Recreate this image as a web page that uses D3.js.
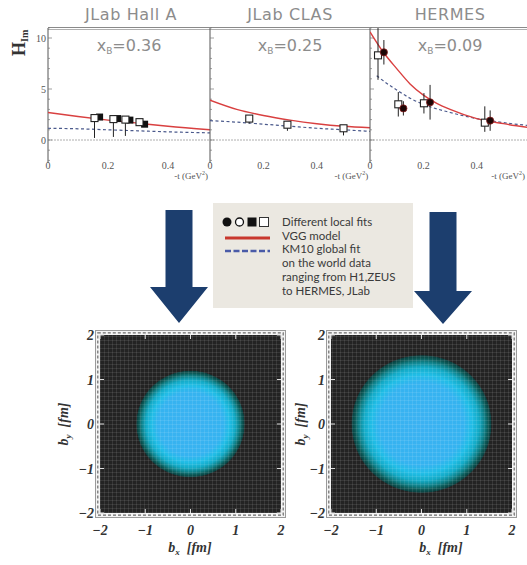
<!DOCTYPE html>
<html><head><meta charset="utf-8">
<script src="https://cdn.jsdelivr.net/npm/d3@7"></script>
<style>body{margin:0;background:#fff}svg{display:block}</style>
</head><body>
<svg id="c" width="527" height="565"></svg>
<script>
// ---------- data: top panels ----------
const panelTitles = ["JLab Hall A", "JLab CLAS", "HERMES"];
const panelXB = ["0.36", "0.25", "0.09"];
const panelTmax = [0.54, 0.6, 0.6];
const xTicks = [0, 0.2, 0.4];
const yTicks = [0, 5, 10];
// VGG model (red)
const vggT = [[0,0.1,0.2,0.3,0.4,0.54],[0,0.1,0.2,0.3,0.4,0.5,0.6],[0,0.05,0.1,0.15,0.2,0.25,0.3,0.4,0.5,0.6]];
const vggH = [[2.7,2.3,1.95,1.65,1.35,1.0],[3.9,3.0,2.4,1.95,1.6,1.35,1.2],[10.6,8.6,7.0,5.5,4.4,3.6,3.0,2.1,1.6,1.2]];
// KM10 global fit (blue dashed)
const km10T = [[0,0.1,0.2,0.3,0.4,0.54],[0,0.1,0.2,0.3,0.4,0.5,0.6],[0.025,0.05,0.1,0.15,0.2,0.3,0.4,0.5,0.6]];
const km10H = [[1.15,1.1,1.0,0.9,0.8,0.7],[1.9,1.75,1.55,1.35,1.15,1.0,0.85],[6.3,5.8,4.9,4.1,3.5,2.7,2.1,1.7,1.4]];
// local fits: open squares
const openSqT = [[0.155,0.218,0.258,0.305],[0.147,0.29,0.50],[0.03,0.106,0.202,0.43]];
const openSqH = [[2.15,2.05,2.0,1.75],[2.1,1.5,1.15],[8.3,3.5,3.6,1.7]];
const openSqErrLo = [[1.95,1.75,1.6,0.3],[0.5,0.6,0.7],[2.4,1.2,1.0,0.9]];
const openSqErrHi = [[0.2,0.2,0.2,0.2],[0.2,0.2,0.2],[2.7,1.2,1.0,1.6]];
// local fits: filled squares
const filledSqT = [[0.172,0.232,0.273,0.322],[],[]];
const filledSqH = [[2.25,2.1,1.95,1.55],[],[]];
// local fits: filled circles
const filledCircT = [[],[],[0.052,0.125,0.225,0.45]];
const filledCircH = [[],[],[8.6,3.1,3.7,1.9]];
const filledCircErr = [[],[],[1.2,0.7,1.7,1.0]];

// ---------- data: legend ----------
const legendLines = ["Different local fits","VGG model","KM10 global fit","on the world data","ranging from H1,ZEUS","to HERMES, JLab"];

// ---------- data: density plots ----------
const bTicks = [-2,-1,0,1,2];
const densityRadius = [1.2, 1.55];   // fm
const gradOffsets = [0, 0.6, 0.72, 0.82, 0.9, 0.95, 0.99, 1];
const gradColors = ["#3cb2f2","#35b3f0","#20bde6","#13aac6","#0f8088","#0c5a58","#0a4040","#1c2a2a"];

const svg = d3.select("#c");
const defs = svg.append("defs");

// ================= TOP PANELS =================
const yTop = d3.scaleLinear().domain([-2, 11]).range([160.4, 27.8]);
const panelX0 = [48, 210, 370];
const panelPx = [300, 267, 267];
const xScales = panelX0.map((x0, i) => d3.scaleLinear().domain([0, panelTmax[i]]).range([x0, x0 + panelTmax[i] * panelPx[i]]));

// top frame line
svg.append("line").attr("x1", 48).attr("x2", 527).attr("y1", 27.5).attr("y2", 27.5).attr("stroke", "#8a8a8a").attr("stroke-width", 1);
svg.append("line").attr("x1", 48).attr("x2", 527).attr("y1", 29.5).attr("y2", 29.5).attr("stroke", "#b0b0b0").attr("stroke-width", 1);

panelTitles.forEach((title, i) => {
  const xs = xScales[i];
  const [r0, r1] = xs.range();
  const re = Math.min(r1, 527);
  const cx = (r0 + r1) / 2;
  const g = svg.append("g");
  defs.append("clipPath").attr("id", "clip" + i).append("rect")
    .attr("x", r0).attr("y", 28).attr("width", r1 - r0).attr("height", 133);

  g.append("text").attr("x", cx + (i === 0 ? 2 : 0)).attr("y", 20).attr("text-anchor", "middle")
    .attr("font-family", "DejaVu Sans").attr("font-size", 16).attr("fill", "#8c8c8c")
    .attr("letter-spacing", 0.6).text(title);

  const xb = g.append("text").attr("x", cx).attr("y", 51).attr("text-anchor", "middle")
    .attr("font-family", "DejaVu Sans").attr("font-size", 16).attr("fill", "#8c8c8c");
  xb.append("tspan").text("x");
  xb.append("tspan").attr("font-size", 9).attr("dy", 3).text("B");
  xb.append("tspan").attr("dy", -3).text("=" + panelXB[i]);

  // zero line
  g.append("line").attr("x1", r0).attr("x2", r1).attr("y1", yTop(0)).attr("y2", yTop(0))
    .attr("stroke", "#9a9a9a").attr("stroke-width", 0.8).attr("stroke-dasharray", "2,1");

  // left axis line
  g.append("line").attr("x1", r0).attr("x2", r0).attr("y1", 28).attr("y2", 163)
    .attr("stroke", "#555").attr("stroke-width", 1);
  d3.range(-2, 12).forEach(v => {
    g.append("line").attr("x1", r0).attr("x2", r0 + (v % 5 === 0 ? 4 : 2))
      .attr("y1", yTop(v)).attr("y2", yTop(v)).attr("stroke", "#777").attr("stroke-width", 0.7);
  });

  // x tick labels
  xTicks.forEach(t => {
    g.append("text").attr("x", xs(t)).attr("y", 169).attr("text-anchor", "middle")
      .attr("font-family", "Liberation Serif").attr("font-size", 10).attr("fill", "#555").text(t === 0 ? "0" : t.toFixed(1));
  });
  const tl = g.append("text").attr("x", re - 2).attr("y", 179).attr("text-anchor", "end")
    .attr("font-family", "Liberation Serif").attr("font-size", 9).attr("fill", "#555");
  tl.append("tspan").text("-t (GeV");
  tl.append("tspan").attr("font-size", 6).attr("dy", -4).text("2");
  tl.append("tspan").attr("dy", 4).text(")");

  const cg = g.append("g").attr("clip-path", `url(#clip${i})`);
  const line = d3.line().x(d => xs(d[0])).y(d => yTop(d[1])).curve(d3.curveMonotoneX);
  cg.append("path").attr("d", line(km10T[i].map((t, k) => [t, km10H[i][k]])))
    .attr("fill", "none").attr("stroke", "#4b5a8c").attr("stroke-width", 1.2).attr("stroke-dasharray", "3,2.5");
  cg.append("path").attr("d", line(vggT[i].map((t, k) => [t, vggH[i][k]])))
    .attr("fill", "none").attr("stroke", "#d94040").attr("stroke-width", 1.4);

  openSqT[i].forEach((t, k) => {
    cg.append("line").attr("x1", xs(t)).attr("x2", xs(t))
      .attr("y1", yTop(openSqH[i][k] - openSqErrLo[i][k])).attr("y2", yTop(openSqH[i][k] + openSqErrHi[i][k]))
      .attr("stroke", "#222").attr("stroke-width", 1);
  });
  filledCircT[i].forEach((t, k) => {
    cg.append("line").attr("x1", xs(t)).attr("x2", xs(t))
      .attr("y1", yTop(filledCircH[i][k] - filledCircErr[i][k])).attr("y2", yTop(filledCircH[i][k] + filledCircErr[i][k]))
      .attr("stroke", "#222").attr("stroke-width", 1);
  });
  filledSqT[i].forEach((t, k) => {
    cg.append("rect").attr("x", xs(t) - 3.5).attr("y", yTop(filledSqH[i][k]) - 3.5)
      .attr("width", 7).attr("height", 7).attr("fill", "#111");
  });
  openSqT[i].forEach((t, k) => {
    cg.append("rect").attr("x", xs(t) - 3.5).attr("y", yTop(openSqH[i][k]) - 3.5)
      .attr("width", 7).attr("height", 7).attr("fill", "#fff").attr("stroke", "#222").attr("stroke-width", 1.1);
  });
  filledCircT[i].forEach((t, k) => {
    cg.append("circle").attr("cx", xs(t)).attr("cy", yTop(filledCircH[i][k])).attr("r", 3.6)
      .attr("fill", "#1c0606").attr("stroke", "#8a2020").attr("stroke-width", 0.8);
  });
});

// y tick labels (panel 1)
yTicks.forEach(v => {
  svg.append("text").attr("x", 46).attr("y", yTop(v) + 3.5).attr("text-anchor", "end")
    .attr("font-family", "Liberation Serif").attr("font-size", 10).attr("fill", "#555").text(v);
});
// H_Im label
const hl = svg.append("text").attr("transform", "translate(25,56) rotate(-90)")
  .attr("font-family", "Liberation Serif").attr("font-weight", "bold").attr("font-size", 18).attr("fill", "#333");
hl.append("tspan").text("H");
hl.append("tspan").attr("font-size", 10).attr("dy", 3).text("Im");

// ================= ARROWS =================
function arrow(cx, top, headY, tip, shaftW, headW) {
  const p = d3.path();
  p.moveTo(cx - shaftW / 2, top); p.lineTo(cx + shaftW / 2, top); p.lineTo(cx + shaftW / 2, headY);
  p.lineTo(cx + headW / 2, headY); p.lineTo(cx, tip); p.lineTo(cx - headW / 2, headY);
  p.lineTo(cx - shaftW / 2, headY); p.closePath();
  svg.append("path").attr("d", p.toString()).attr("fill", "#1c3e6e");
}
arrow(179, 210, 287, 323, 27, 58);
arrow(443, 212, 291, 324, 27, 58);

// ================= LEGEND =================
svg.append("rect").attr("x", 213).attr("y", 203).attr("width", 200).attr("height", 105).attr("fill", "#ebe8e1");
const lg = svg.append("g");
lg.append("circle").attr("cx", 227).attr("cy", 222).attr("r", 4.5).attr("fill", "#111");
lg.append("circle").attr("cx", 239.5).attr("cy", 222).attr("r", 4).attr("fill", "#fff").attr("stroke", "#111").attr("stroke-width", 1.3);
lg.append("rect").attr("x", 247.5).attr("y", 217.5).attr("width", 9).attr("height", 9).attr("fill", "#111");
lg.append("rect").attr("x", 259.5).attr("y", 217.5).attr("width", 9).attr("height", 9).attr("fill", "#fff").attr("stroke", "#333").attr("stroke-width", 1);
lg.append("line").attr("x1", 225).attr("x2", 270).attr("y1", 238).attr("y2", 238).attr("stroke", "#c8372d").attr("stroke-width", 3);
lg.append("line").attr("x1", 225).attr("x2", 270).attr("y1", 251).attr("y2", 251).attr("stroke", "#4a5ba8").attr("stroke-width", 2.5).attr("stroke-dasharray", "6,2.5");
const legendY = [226, 239.5, 253, 267, 281, 295];
legendLines.forEach((s, k) => {
  lg.append("text").attr("x", 282).attr("y", legendY[k]).attr("font-family", "Lato").attr("font-size", 11.5)
    .attr("fill", "#3a3a3a").text(s);
});

// ================= DENSITY PLOTS =================
const pat = defs.append("pattern").attr("id", "mesh").attr("patternUnits", "userSpaceOnUse").attr("width", 4).attr("height", 4);
pat.append("rect").attr("width", 4).attr("height", 4).attr("fill", "none");
pat.append("line").attr("x1", 0).attr("x2", 4).attr("y1", 0.5).attr("y2", 0.5).attr("stroke", "rgba(255,255,255,0.09)");
pat.append("line").attr("x1", 0.5).attr("x2", 0.5).attr("y1", 0).attr("y2", 4).attr("stroke", "rgba(255,255,255,0.09)");

const plotX0 = [100, 331];
const yB = d3.scaleLinear().domain([-2, 2]).range([513, 335]);
const xLabelCx = [190, 441];
const yLabelX = [68, 305];

densityRadius.forEach((rad, i) => {
  const xB = d3.scaleLinear().domain([-2, 2]).range([plotX0[i], plotX0[i] + 181]);
  const g = svg.append("g");
  const [x0, x1] = xB.range();
  const [y1, y0] = yB.range();
  g.append("rect").attr("x", x0 - 4.5).attr("y", y0 - 4.5).attr("width", x1 - x0 + 9).attr("height", y1 - y0 + 9)
    .attr("fill", "#f4f4f4").attr("stroke", "#9a9a9a").attr("stroke-width", 1);
  const band = d3.path();
  band.rect(x0 - 2.2, y0 - 2.2, x1 - x0 + 4.4, y1 - y0 + 4.4);
  g.append("path").attr("d", band.toString()).attr("fill", "none").attr("stroke", "#6a6a6a")
    .attr("stroke-width", 1.2).attr("stroke-dasharray", "3,2");
  g.append("rect").attr("x", x0).attr("y", y0).attr("width", x1 - x0).attr("height", y1 - y0).attr("fill", "#232323");
  const gid = "grad" + i;
  const rg = defs.append("radialGradient").attr("id", gid);
  gradOffsets.forEach((o, k) => rg.append("stop").attr("offset", o).attr("stop-color", gradColors[k]));
  g.append("ellipse").attr("cx", xB(0)).attr("cy", yB(0))
    .attr("rx", xB(rad) - xB(0)).attr("ry", yB(0) - yB(rad)).attr("fill", `url(#${gid})`);
  g.append("rect").attr("x", x0).attr("y", y0).attr("width", x1 - x0).attr("height", y1 - y0).attr("fill", "url(#mesh)");
  bTicks.forEach(v => {
    g.append("line").attr("x1", xB(v)).attr("x2", xB(v)).attr("y1", y1).attr("y2", y1 - 4).attr("stroke", "#ddd").attr("stroke-width", 1);
    g.append("line").attr("x1", xB(v)).attr("x2", xB(v)).attr("y1", y0).attr("y2", y0 + 4).attr("stroke", "#ddd").attr("stroke-width", 1);
    g.append("line").attr("x1", x0).attr("x2", x0 + 4).attr("y1", yB(v)).attr("y2", yB(v)).attr("stroke", "#ddd").attr("stroke-width", 1);
    g.append("line").attr("x1", x1).attr("x2", x1 - 4).attr("y1", yB(v)).attr("y2", yB(v)).attr("stroke", "#ddd").attr("stroke-width", 1);
    g.append("text").attr("x", xB(v)).attr("y", 535).attr("text-anchor", "middle")
      .attr("font-family", "Liberation Serif").attr("font-style", "italic").attr("font-weight", "bold")
      .attr("font-size", 14).attr("fill", "#333").text(v < 0 ? "\u2212" + Math.abs(v) : v);
    g.append("text").attr("x", x0 - 6).attr("y", yB(v) + 5).attr("text-anchor", "end")
      .attr("font-family", "Liberation Serif").attr("font-style", "italic").attr("font-weight", "bold")
      .attr("font-size", 14).attr("fill", "#333").text(v < 0 ? "\u2212" + Math.abs(v) : v);
  });
  const xl = g.append("text").attr("x", xLabelCx[i]).attr("y", 552).attr("text-anchor", "middle")
    .attr("font-family", "Liberation Serif").attr("font-style", "italic").attr("font-weight", "bold")
    .attr("font-size", 14).attr("fill", "#333");
  xl.append("tspan").text("b");
  xl.append("tspan").attr("font-size", 9).attr("dy", 3).text("x");
  xl.append("tspan").attr("dy", -3).text("\u2002[fm]");
  const yl = g.append("text").attr("transform", `translate(${yLabelX[i]},${yB(0)}) rotate(-90)`).attr("text-anchor", "middle")
    .attr("font-family", "Liberation Serif").attr("font-style", "italic").attr("font-weight", "bold")
    .attr("font-size", 14).attr("fill", "#333");
  yl.append("tspan").text("b");
  yl.append("tspan").attr("font-size", 9).attr("dy", 3).text("y");
  yl.append("tspan").attr("dy", -3).text("\u2002[fm]");
});
</script>
</body></html>
